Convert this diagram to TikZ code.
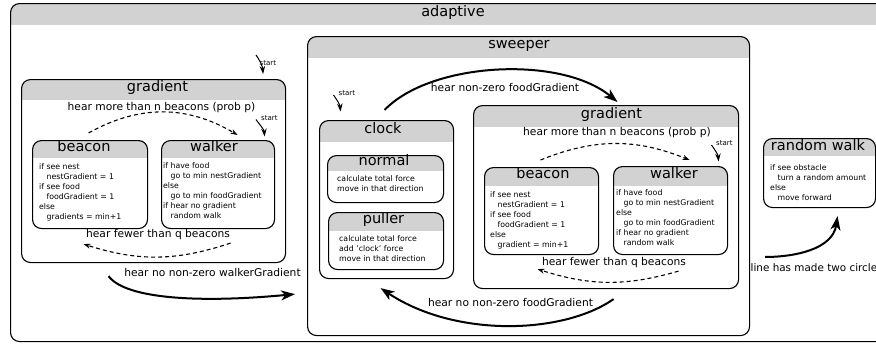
\documentclass[tikz,border=0pt]{standalone}
\usepackage{fontspec}
\setmainfont{DejaVu Sans}
\usetikzlibrary{positioning, arrows.meta}

\definecolor{headgray}{RGB}{210,210,210}
\newcommand{\bodyind}{\hspace*{7.5pt}}

\tikzset{
  hh/.store in=\hdh, hh=20,
  statebox/.style={draw, line width=1.1pt, rounded corners=9pt, fill=white, anchor=north west, inner sep=0pt,
    path picture={\fill[headgray, sharp corners] (path picture bounding box.north west) rectangle ([yshift=-\hdh]path picture bounding box.north east);}},
  hdtext/.style={font=\fontsize{14.5}{16}\selectfont, text height=0.75em, text depth=0.2em, inner sep=0pt},
  body/.style={font=\fontsize{7.8}{10}\selectfont, align=left, anchor=north west, inner sep=0pt},
  elabel/.style={font=\fontsize{10.7}{12}\selectfont, text height=0.76em, text depth=0.24em, inner sep=0pt},
  startlbl/.style={font=\fontsize{7}{8}\selectfont, text height=0.76em, text depth=0.24em, inner sep=0pt, anchor=west},
  trans/.style={line width=2pt, -{Stealth[length=14pt, width=10pt, inset=4pt]}},
  dtrans/.style={line width=1.1pt, dash pattern=on 4pt off 3pt, -{Stealth[length=7pt, width=5pt]}},
  startarr/.style={line width=1pt, -{Stealth[length=8pt, width=5.5pt]}},
}

\begin{document}
\begin{tikzpicture}[x=1pt, y=1pt]
\useasboundingbox (0,0) rectangle (876,-343);
\clip (0,0) rectangle (876,-343);

% outer state
\node (adaptive) [statebox, hh=21, minimum width=886pt, minimum height=338pt] at (10,-3) {};
\node (adaptiveT) [hdtext] at (453,-13.5) {adaptive};

% gradient (left)
\node (gradL) [statebox, hh=20, minimum width=264pt, minimum height=183pt] at (21,-79) {};
\node (gradLT) [hdtext] at (157.5,-89) {gradient};
\node (beaconL) [statebox, hh=17, minimum width=115pt, minimum height=88pt] at (32,-140) {};
\node (beaconLT) [hdtext] at (84,-149) {beacon};
\node (beaconLB) [body] at (39,-163.2) {if see nest\\ \bodyind nestGradient = 1\\ if see food\\ \bodyind foodGradient = 1\\ else\\ \bodyind gradients = min+1};
\node (walkerL) [statebox, hh=17, minimum width=113pt, minimum height=88pt] at (161,-140) {};
\node (walkerLT) [hdtext] at (214,-148.5) {walker};
\node (walkerLB) [body] at (163,-162.2) {if have food\\ \bodyind go to min nestGradient\\ else\\ \bodyind go to min foodGradient\\ if hear no gradient\\ \bodyind random walk};

% sweeper
\node (sweeper) [statebox, hh=21, minimum width=442pt, minimum height=299pt] at (307,-36) {};
\node (sweeperT) [hdtext] at (519,-46) {sweeper};
\node (clock) [statebox, hh=21, minimum width=134pt, minimum height=158pt] at (319,-120) {};
\node (clockT) [hdtext] at (383,-130.5) {clock};
\node (normal) [statebox, hh=15, minimum width=116pt, minimum height=47pt] at (327,-155) {};
\node (normalT) [hdtext] at (384,-162.5) {normal};
\node (normalB) [body] at (337,-175) {calculate total force\\ move in that direction};
\node (puller) [statebox, hh=18, minimum width=115pt, minimum height=57pt] at (328,-212) {};
\node (pullerT) [hdtext] at (383.5,-221) {puller};
\node (pullerB) [body] at (339,-235.2) {calculate total force\\ add 'clock' force\\ move in that direction};

% gradient (right)
\node (gradR) [statebox, hh=21, minimum width=265pt, minimum height=183pt] at (473,-105) {};
\node (gradRT) [hdtext] at (611.5,-115.5) {gradient};
\node (beaconR) [statebox, hh=18, minimum width=114pt, minimum height=87pt] at (484,-167) {};
\node (beaconRT) [hdtext] at (543,-176) {beacon};
\node (beaconRB) [body] at (490,-191.2) {if see nest\\ \bodyind nestGradient = 1\\ if see food\\ \bodyind foodGradient = 1\\ else\\ \bodyind gradient = min+1};
\node (walkerR) [statebox, hh=19, minimum width=114pt, minimum height=88pt] at (613,-166) {};
\node (walkerRT) [hdtext] at (674,-175.5) {walker};
\node (walkerRB) [body] at (616,-188.9) {if have food\\ \bodyind go to min nestGradient\\ else\\ \bodyind go to min foodGradient\\ if hear no gradient\\ \bodyind random walk};

% random walk
\node (rwalk) [statebox, hh=17, minimum width=112pt, minimum height=69pt] at (763,-138) {};
\node (rwalkT) [hdtext] at (818,-147.5) {random walk};
\node (rwalkB) [body] at (770,-164) {if see obstacle\\ \bodyind turn a random amount\\ else\\ \bodyind move forward};

% start markers
\coordinate (stGradL) at (256,-55);
\coordinate (stWalkL) at (256,-119.5);
\coordinate (stClock) at (333.5,-95);
\coordinate (stWalkR) at (711.5,-145);
\draw[startarr] (stGradL) to[out=-55, in=95] ([shift={(-23,5)}]gradL.north east);
\draw[startarr] (stWalkL) to[out=-55, in=95] ([shift={(-10.5,3.5)}]walkerL.north east);
\draw[startarr] (stClock) to[out=-55, in=95] ([shift={(21.5,8.5)}]clock.north west);
\draw[startarr] (stWalkR) to[out=-55, in=95] ([shift={(-9.5,4.5)}]walkerR.north east);
\node (stGradLT) [startlbl] at (259.5,-63) {start};
\node (stWalkLT) [startlbl] at (261,-118) {start};
\node (stClockT) [startlbl] at (338.5,-93) {start};
\node (stWalkRT) [startlbl] at (716,-143) {start};

% transitions inside the gradient states
\draw[dtrans] ([shift={(-1.5,7)}]beaconL.north) to[bend left=30] ([shift={(19.5,5)}]walkerL.north);
\draw[dtrans] ([shift={(12.5,-14)}]walkerL.south) to[bend left=18] ([shift={(-6.5,-15)}]beaconL.south);
\draw[dtrans] ([shift={(-1,7)}]beaconR.north) to[bend left=22] ([shift={(19,6)}]walkerR.north);
\draw[dtrans] ([shift={(8,-16)}]walkerR.south) to[bend left=17] ([shift={(-4,-14)}]beaconR.south);
\node (lblMoreL) [elabel] at (161.5,-108) {hear more than n beacons (prob p)};
\node (lblFewL) [elabel] at (158,-235) {hear fewer than q beacons};
\node (lblMoreR) [elabel] at (617,-133.3) {hear more than n beacons (prob p)};
\node (lblFewR) [elabel] at (614,-263.3) {hear fewer than q beacons};

% transitions between states
\draw[trans] ([shift={(-45,-13)}]gradL.south) .. controls +(17,-23) and +(-95,-9) .. ([shift={(-12,42)}]sweeper.south west);
\draw[trans] ([shift={(-2,10)}]clock.north) .. controls +(46,48) and +(-57,47) .. ([shift={(11.5,3)}]gradR.north);
\draw[trans] ([shift={(7.5,-10)}]gradR.south) .. controls +(-50,-35) and +(75,-50) .. ([shift={(-6,-9)}]clock.south);
\node (lblWalker) [elabel] at (212.5,-274) {hear no non-zero walkerGradient};
\node (lblFoodT) [elabel] at (505,-88.5) {hear non-zero foodGradient};
\node (lblFoodB) [elabel] at (510.5,-304) {hear no non-zero foodGradient};
\node (lblCircle) [elabel, font=\fontsize{10.4}{12}\selectfont, anchor=west] at (750.5,-269) {line has made two circles};
\coordinate (rwStart) at (765,-257);
\draw[trans] (rwStart) .. controls +(30,0) and +(-5,-33) .. ([shift={(18,-8)}]rwalk.south);

\end{tikzpicture}
\end{document}
